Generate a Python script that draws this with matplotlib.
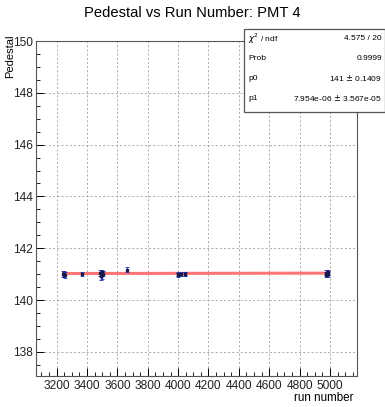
import matplotlib
matplotlib.use("Agg")
import matplotlib.pyplot as plt
from matplotlib.patches import Rectangle
from matplotlib.ticker import MultipleLocator
import numpy as np

plt.rcParams['font.family'] = ['Liberation Sans', 'DejaVu Sans']

# pedestal per run, PMT 4
runs = [3245, 3248, 3251, 3254, 3366, 3487, 3490, 3493, 3496, 3499, 3502,
        3664, 3998, 4001, 4020, 4042, 4045, 4972, 4976, 4980, 4984, 4988]
pedestal = [141.0, 140.98, 141.02, 140.97, 141.0, 141.05, 140.92, 141.0, 141.08, 140.95, 141.02,
            141.18, 141.0, 140.98, 141.02, 141.0, 141.01, 141.05, 140.98, 141.02, 141.08, 141.0]
ped_err = [0.12, 0.1, 0.1, 0.12, 0.07, 0.12, 0.15, 0.1, 0.1, 0.12, 0.1,
           0.08, 0.08, 0.08, 0.08, 0.08, 0.08, 0.1, 0.1, 0.08, 0.1, 0.1]

# linear fit result
p0, p0_err = 141.0, 0.1409
p1, p1_err = 7.954e-06, 3.567e-05
stats_rows = [("$\\chi^2$ / ndf", "4.575 / 20"),
              ("Prob", "0.9999"),
              ("p0", "141 $\\pm$ 0.1409"),
              ("p1", "7.954e-06 $\\pm$ 3.567e-05")]

fig = plt.figure(figsize=(3.85, 4.07), dpi=100)
ax = fig.add_axes([36 / 385, 31 / 407, 321 / 385, 335 / 407])

xfit = np.array([min(runs), max(runs)])
ax.plot(xfit, p0 + p1 * xfit, color='#ff7575', lw=2.2, zorder=2)
ax.errorbar(runs, pedestal, yerr=ped_err, fmt='s', ms=1.8, color='#1a1a4a',
            ecolor='#2030b0', elinewidth=0.7, capsize=1.2, capthick=0.6, zorder=3)

ax.set_xlim(3064, 5178)
ax.set_ylim(137.07, 150)
ax.xaxis.set_minor_locator(MultipleLocator(50))
ax.yaxis.set_major_locator(MultipleLocator(2))
ax.yaxis.set_minor_locator(MultipleLocator(0.5))
ax.set_xticks(np.arange(3200, 5001, 200))
ax.tick_params(which='both', direction='in', top=False, right=False, labelsize=8.6,
               pad=3, labelcolor='#222222')
ax.tick_params(which='major', length=6, width=0.7)
ax.tick_params(which='minor', length=3, width=0.6)
ax.tick_params(axis='y', pad=2)
ax.grid(True, which='major', color='#a0a0a0', ls=(0, (2.5, 2.5)), lw=0.6)
for s in ax.spines.values():
    s.set_linewidth(0.8)
    s.set_color('#555555')

fig.text(0.5, 1 - 13 / 407, "Pedestal vs Run Number: PMT 4", ha='center', va='center', fontsize=10.6)
fig.text(10 / 385, 1 - 56 / 407, "Pedestal", rotation=90, ha='center', va='center', fontsize=8)
fig.text(353 / 385, 1 - 398 / 407, "run number", ha='right', va='center', fontsize=8.4)

# stats box
fig.patches.append(Rectangle((244 / 385, 1 - 112 / 407), 141 / 385, 83 / 407,
                             transform=fig.transFigure, facecolor='white',
                             edgecolor='#555555', lw=0.9, zorder=5))
row_y = [39, 58, 78, 98]
for (name, val), y in zip(stats_rows, row_y):
    fig.text(248 / 385, 1 - y / 407, name, ha='left', va='center', fontsize=6, zorder=6)
    fig.text(382 / 385, 1 - y / 407, val, ha='right', va='center', fontsize=6, zorder=6)

fig.savefig("out.png", dpi=100)
